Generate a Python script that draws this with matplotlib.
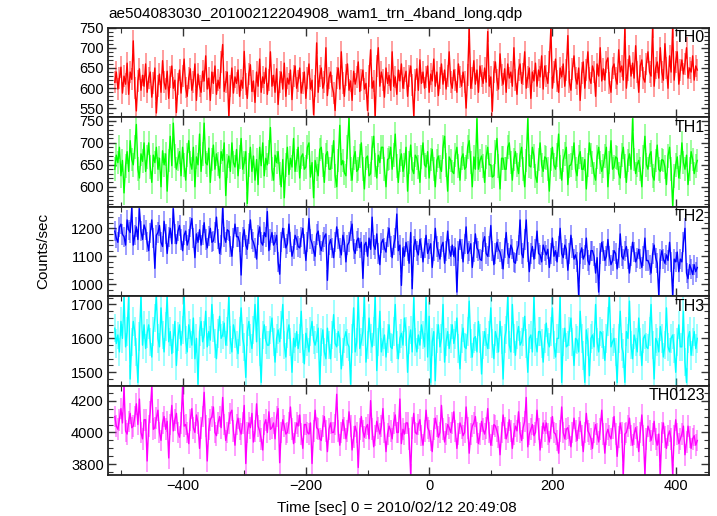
import numpy as np
import matplotlib
matplotlib.use("Agg")
import matplotlib.pyplot as plt
from matplotlib.ticker import MultipleLocator

plt.rcParams['font.family'] = ['Liberation Sans', 'DejaVu Sans']

title = "ae504083030_20100212204908_wam1_trn_4band_long.qdp"
xlabel = "Time [sec] 0 = 2010/02/12 20:49:08"
ylabel = "Counts/sec"
band_names = ["TH0", "TH1", "TH2", "TH3", "TH0123"]
band_colors = ["#ff0000", "#00ff00", "#0000ff", "#00ffff", "#ff00ff"]

t_start = -510.0   # time of first bin (s)
bin_width = 2.5    # s

th0 = [615, 640, 598, 625, 652, 588, 630, 610, 662, 585, 640, 622, 717, 600, 544, 618, 648, 595, 632, 605,
       660, 590, 625, 640, 578, 612, 650, 539, 605, 635, 590, 668, 615, 598, 642, 575, 628, 655, 600, 620,
       540, 610, 645, 588, 630, 672, 602, 580, 625, 648, 595, 615, 660, 570, 635, 605, 590, 642, 618, 680,
       598, 625, 570, 640, 612, 655, 585, 620, 600, 665, 708, 592, 615, 640, 530, 605, 650, 588, 628, 612,
       645, 580, 620, 600, 691, 610, 575, 635, 658, 592, 618, 565, 640, 605, 672, 590, 628, 612, 650, 585,
       620, 690, 605, 632, 590, 648, 560, 615, 640, 598, 662, 580, 625, 610, 645, 572, 630, 655, 600, 618,
       650, 588, 612, 640, 575, 625, 660, 598, 620, 535, 605, 712, 590, 630, 650, 600, 615, 700, 582, 625,
       640, 605, 588, 545, 625, 650, 598, 690, 612, 580, 632, 660, 595, 618, 570, 642, 610, 628, 665, 592,
       620, 645, 598, 612, 545, 630, 695, 600, 618, 530, 655, 700, 605, 640, 620, 578, 650, 612, 632, 595,
       690, 605, 628, 585, 645, 618, 660, 600, 625, 642, 580, 630, 655, 608, 532, 620, 648, 595, 670, 612,
       640, 600, 628, 655, 590, 635, 618, 672, 605, 640, 582, 625, 660, 610, 645, 598, 630, 690, 615, 600,
       645, 620, 590, 660, 628, 605, 640, 615, 551, 632, 750, 600, 625, 668, 610, 645, 590, 655, 630, 612,
       650, 615, 740, 605, 628, 543, 640, 665, 620, 598, 685, 632, 610, 648, 590, 660, 625, 640, 605, 700,
       620, 585, 645, 660, 612, 635, 690, 600, 628, 650, 575, 640, 618, 662, 605, 645, 628, 680, 598, 655,
       630, 612, 665, 750, 600, 640, 672, 618, 590, 650, 628, 660, 605, 645, 730, 615, 595, 648, 680, 625,
       610, 650, 570, 638, 665, 600, 645, 690, 625, 612, 655, 640, 580, 660, 630, 700, 618, 648, 620, 665,
       675, 612, 590, 650, 660, 625, 610, 695, 640, 655, 620, 750, 600, 645, 680, 630, 662, 625, 705, 640,
       590, 655, 670, 625, 615, 660, 690, 640, 630, 750, 605, 650, 665, 625, 700, 640, 620, 710, 650, 600,
       680, 640, 750, 620, 665, 690, 610, 645, 670, 635, 660, 700, 625, 650, 640, 680, 620, 655, 645]

th1 = [640, 672, 655, 690, 625, 660, 586, 648, 680, 635, 705, 662, 650, 690, 742, 640, 620, 675, 658, 700,
       635, 668, 700, 645, 610, 672, 655, 690, 640, 665, 600, 682, 650, 675, 590, 660, 715, 648, 745, 670,
       640, 662, 680, 625, 690, 650, 615, 672, 705, 655, 640, 690, 600, 668, 650, 720, 635, 675, 745, 655,
       650, 688, 610, 662, 695, 640, 675, 652, 620, 680, 660, 700, 580, 648, 670, 635, 700, 655, 645, 685,
       625, 668, 710, 640, 655, 680, 562, 650, 690, 635, 670, 615, 662, 605, 690, 648, 700, 625, 665, 650,
       680, 735, 640, 615, 672, 655, 680, 630, 600, 662, 575, 650, 690, 628, 665, 645, 710, 635, 660, 690,
       620, 668, 675, 640, 645, 690, 700, 622, 655, 575, 660, 640, 625, 685, 690, 650, 610, 672, 680, 640,
       640, 668, 705, 625, 600, 660, 740, 650, 660, 632, 625, 690, 757, 640, 615, 665, 680, 635, 640, 670,
       700, 640, 595, 665, 670, 625, 630, 688, 715, 650, 620, 672, 655, 690, 690, 640, 600, 662, 665, 690,
       640, 672, 720, 648, 610, 660, 675, 635, 650, 690, 590, 655, 695, 640, 630, 672, 665, 645, 610, 668,
       700, 650, 645, 680, 620, 662, 685, 640, 600, 660, 670, 645, 635, 690, 715, 650, 590, 668, 660, 635,
       630, 672, 690, 648, 615, 665, 675, 640, 645, 690, 705, 655, 600, 668, 640, 755, 640, 660, 670, 648,
       610, 668, 690, 650, 650, 622, 625, 680, 710, 648, 595, 665, 665, 640, 640, 690, 700, 655, 615, 662,
       680, 650, 630, 672, 690, 640, 600, 660, 755, 648, 645, 690, 670, 625, 610, 662, 700, 650, 635, 668,
       665, 640, 590, 662, 690, 650, 640, 672, 720, 645, 615, 660, 675, 690, 605, 648, 650, 665, 700, 640,
       625, 668, 680, 640, 640, 662, 595, 650, 700, 672, 655, 630, 615, 668, 690, 655, 635, 648, 670, 690,
       600, 655, 705, 640, 645, 668, 665, 630, 620, 672, 690, 648, 610, 660, 675, 640, 755, 662, 630, 650,
       660, 640, 600, 668, 715, 650, 640, 672, 680, 625, 615, 660, 695, 640, 635, 662, 660, 645, 605, 670,
       690, 640, 557, 625, 650, 668, 620, 645, 700, 655, 640, 672, 605, 640, 680, 662, 630, 648, 660]

th2 = [1190, 1165, 1150, 1205, 1215, 1178, 1170, 1140, 1230, 1195, 1185, 1273, 1140, 1175, 1205, 1160, 1270, 1190, 1160, 1212,
       1195, 1150, 1120, 1182, 1230, 1165, 1057, 1175, 1185, 1210, 1150, 1135, 1225, 1180, 1110, 1168, 1200, 1145, 1270, 1180,
       1145, 1190, 1210, 1160, 1120, 1175, 1190, 1140, 1160, 1205, 1235, 1165, 1095, 1180, 1150, 1195, 1140, 1175, 1220, 1160,
       1130, 1172, 1200, 1150, 1155, 1185, 1240, 1162, 1110, 1140, 1276, 1170, 1150, 1195, 1190, 1135, 1100, 1165, 1215, 1170,
       1170, 1150, 1033, 1168, 1195, 1140, 1125, 1180, 1230, 1162, 1150, 1130, 1090, 1175, 1205, 1150, 1140, 1185, 1170, 1260,
       1120, 1160, 1185, 1140, 1150, 1175, 1080, 1036, 1150, 1200, 1165, 1130, 1145, 1215, 1150, 1100, 1125, 1175, 1160, 1135,
       1130, 1168, 1200, 1145, 1085, 1150, 1235, 1162, 1145, 1120, 1100, 1178, 1190, 1140, 1120, 1150, 1170, 1180, 1014, 1140,
       1160, 1130, 1095, 1150, 1205, 1162, 1130, 1105, 1175, 1150, 1080, 1140, 1150, 1190, 1215, 1125, 1110, 1155, 1165, 1130,
       1150, 1021, 1140, 1150, 1100, 1165, 1125, 1240, 1140, 1125, 1180, 1110, 1070, 1148, 1160, 1130, 1115, 1170, 1200, 1135,
       1095, 1140, 1165, 1251, 1120, 1140, 996, 1130, 1100, 1150, 1120, 1075, 1185, 984, 1135, 1160, 1120, 1105, 1160, 1130,
       1080, 1130, 1175, 1110, 1125, 1145, 1060, 1120, 1200, 1135, 1115, 1090, 1135, 1150, 1075, 1120, 1190, 1125, 1100, 1140,
       1100, 1130, 972, 1120, 1160, 1125, 1080, 1145, 1205, 1110, 1120, 1145, 1060, 1115, 1180, 1130, 1120, 1090, 1085, 1150,
       1170, 1110, 1100, 1135, 1210, 1120, 1070, 1110, 1150, 1125, 1115, 1090, 1055, 1130, 1185, 1110, 1095, 1140, 1125, 1080,
       1075, 1120, 1140, 1230, 1110, 1095, 1160, 1230, 1115, 1045, 1110, 1135, 1090, 1125, 1190, 1110, 1105, 1080, 1140, 1120,
       1105, 1125, 1060, 1110, 1165, 1100, 1120, 1080, 1135, 1200, 1110, 1095, 1140, 1125, 1050, 1110, 1175, 1130, 1090, 1105,
       1080, 960, 1110, 1130, 1090, 1105, 1165, 1085, 1070, 1120, 1120, 1100, 1040, 1095, 972, 1110, 1150, 1120, 1085, 1100,
       1160, 1100, 1070, 1085, 1120, 1110, 1055, 1095, 1180, 1100, 1090, 1120, 1135, 1090, 1040, 1100, 1150, 1115, 1080, 1095,
       1125, 1090, 1060, 1100, 1165, 1085, 1085, 1070, 1040, 1110, 1140, 1095, 1075, 960, 1090, 1120, 1090, 1075, 1105, 1085,
       1150, 1080, 960, 1090, 1080, 1115, 1045, 1090, 1080, 1150, 1200, 1040, 1020, 1070, 1055, 1035, 1070, 1045, 1060]

th3 = [1630, 1585, 1610, 1560, 1650, 1600, 1725, 1575, 1620, 1725, 1480, 1590, 1650, 1620, 1560, 1470, 1605, 1725, 1580, 1640,
       1570, 1615, 1640, 1590, 1545, 1620, 1660, 1725, 1600, 1575, 1690, 1610, 1560, 1635, 1725, 1590, 1620, 1555, 1600, 1650,
       1520, 1605, 1640, 1580, 1625, 1725, 1595, 1560, 1640, 1615, 1580, 1660, 1540, 1600, 1465, 1620, 1650, 1590, 1610, 1680,
       1575, 1620, 1595, 1700, 1630, 1585, 1540, 1615, 1665, 1600, 1610, 1645, 1580, 1620, 1725, 1595, 1560, 1640, 1615, 1580,
       1555, 1620, 1690, 1600, 1575, 1485, 1620, 1650, 1600, 1570, 1625, 1700, 1590, 1725, 1560, 1470, 1610, 1640, 1595, 1580,
       1580, 1625, 1660, 1590, 1530, 1600, 1625, 1590, 1640, 1700, 1580, 1545, 1615, 1640, 1590, 1500, 1600, 1575, 1620, 1570,
       1600, 1680, 1570, 1525, 1615, 1590, 1560, 1620, 1650, 1595, 1580, 1600, 1630, 1465, 1590, 1625, 1560, 1540, 1630, 1580,
       1540, 1610, 1670, 1585, 1575, 1620, 1600, 1510, 1560, 1600, 1620, 1585, 1575, 1465, 1600, 1690, 1560, 1590, 1725, 1570,
       1590, 1620, 1725, 1530, 1580, 1660, 1600, 1575, 1620, 1725, 1505, 1590, 1680, 1560, 1590, 1610, 1545, 1600, 1640, 1575,
       1570, 1620, 1700, 1580, 1540, 1600, 1615, 1580, 1660, 1620, 1500, 1595, 1625, 1560, 1720, 1590, 1560, 1610, 1580, 1640,
       1610, 1575, 1725, 1545, 1665, 1470, 1590, 1620, 1475, 1600, 1640, 1575, 1600, 1700, 1530, 1590, 1620, 1570, 1600, 1640,
       1585, 1610, 1660, 1570, 1510, 1600, 1630, 1575, 1570, 1620, 1710, 1585, 1545, 1600, 1605, 1560, 1650, 1600, 1495, 1580,
       1620, 1590, 1570, 1610, 1690, 1585, 1540, 1620, 1600, 1560, 1650, 1595, 1480, 1600, 1625, 1725, 1580, 1560, 1700, 1600,
       1550, 1610, 1635, 1580, 1590, 1620, 1665, 1585, 1500, 1600, 1610, 1560, 1725, 1590, 1560, 1620, 1620, 1585, 1530, 1600,
       1645, 1590, 1575, 1620, 1690, 1580, 1545, 1600, 1600, 1725, 1470, 1590, 1630, 1575, 1580, 1620, 1660, 1590, 1520, 1600,
       1595, 1560, 1680, 1600, 1550, 1470, 1625, 1590, 1490, 1600, 1610, 1575, 1700, 1590, 1560, 1620, 1615, 1580, 1535, 1600,
       1650, 1725, 1575, 1590, 1600, 1560, 1470, 1600, 1680, 1575, 1555, 1470, 1620, 1600, 1710, 1580, 1540, 1610, 1590, 1560,
       1660, 1590, 1520, 1600, 1610, 1575, 1570, 1620, 1700, 1580, 1480, 1600, 1590, 1560, 1635, 1600, 1545, 1580, 1690, 1575,
       1560, 1600, 1610, 1570, 1500, 1590, 1640, 1575, 1575, 1680, 1530, 1470, 1600, 1620, 1550, 1590, 1620, 1570, 1600]

th0123 = [4100, 4040, 4020, 4080, 4150, 4060, 4290, 4010, 3990, 4070, 4120, 4030, 4040, 4100, 4180, 4050, 4210, 4000, 3960, 4080,
          4080, 3821, 4040, 4130, 4290, 4020, 4030, 4090, 4140, 4000, 3950, 4060, 4100, 4020, 4070, 3840, 4050, 4170, 4010, 4080,
          4120, 4000, 3970, 4060, 4290, 4040, 4050, 4000, 3930, 4080, 4150, 4030, 4000, 4110, 4060, 3900, 4030, 4100, 4252, 4040,
          3821, 4020, 4080, 4100, 4160, 4000, 3980, 4060, 4100, 4030, 4220, 4050, 3950, 4000, 4060, 4120, 4140, 4010, 3920, 4050,
          4090, 4020, 3990, 4060, 4170, 3805, 4000, 4060, 4030, 4120, 3940, 4010, 4180, 4040, 4010, 3960, 3890, 4050, 4080, 4000,
          4130, 4020, 4030, 4060, 3960, 4100, 4150, 3810, 4000, 4080, 4040, 3990, 4000, 4060, 4160, 4020, 3930, 4000, 4060, 4040,
          4110, 3990, 3900, 4050, 4050, 4000, 3990, 4060, 3805, 4010, 4140, 4030, 4020, 3960, 3950, 4040, 4100, 4010, 3880, 4020,
          4060, 4000, 4000, 4050, 4240, 4010, 3920, 4000, 4080, 4030, 3960, 4010, 4130, 4040, 3890, 3970, 4040, 4000, 3780, 4020,
          4100, 4010, 3970, 4030, 4050, 3960, 4200, 4020, 3910, 3980, 4070, 4030, 3990, 4040, 4150, 4000, 3880, 3990, 4040, 4010,
          3960, 4060, 4110, 4000, 4000, 4210, 3930, 4020, 3990, 4060, 4060, 3960, 3737, 4030, 4120, 4000, 3990, 4050, 4080, 3980,
          3920, 4010, 4140, 4030, 4010, 3950, 3880, 4020, 4090, 4040, 3970, 4000, 4170, 4020, 3940, 3990, 4050, 4030, 4000, 4060,
          4130, 4010, 3900, 3990, 4060, 4030, 3980, 4000, 4160, 4030, 3870, 3990, 4040, 4060, 4100, 4000, 3930, 3990, 4070, 4020,
          3990, 4030, 4150, 4000, 3920, 3980, 4050, 4040, 4010, 3970, 3860, 4000, 4110, 4030, 3960, 4000, 4080, 4010, 3900, 3990,
          4040, 4010, 4130, 4000, 3950, 4030, 4070, 4220, 3910, 3990, 4020, 4050, 3980, 4000, 4140, 4020, 3890, 3970, 4060, 4010,
          4060, 3990, 3940, 4030, 4100, 4000, 3990, 3950, 3870, 4010, 4160, 4000, 3960, 4020, 4030, 3980, 3910, 4000, 4090, 4010,
          3950, 4030, 4070, 3980, 3880, 4000, 4120, 4010, 3990, 3960, 3900, 4000, 4050, 3990, 3940, 4020, 4140, 3990, 3870, 3990,
          4020, 3980, 3960, 4030, 4100, 3990, 3850, 3970, 4060, 4000, 3737, 3990, 4000, 4040, 4090, 3980, 3920, 3990, 4030, 3970,
          3880, 4000, 4110, 3980, 3737, 3960, 4040, 4010, 3950, 3990, 4070, 3960, 3920, 3990, 3737, 4000, 4060, 3970, 3900, 3980,
          4010, 3960, 3737, 3980, 4080, 3990, 3930, 3960, 3990, 4040, 3860, 3940, 4040, 3970, 3900, 3960, 3980, 3920, 3950]

band_values = [th0, th1, th2, th3, th0123]
band_errors = [27, 27, 36, 42, 68]          # typical 1-sigma error per bin

y_limits = [(529, 750), (555, 759), (958, 1278), (1461, 1725), (3733, 4295)]
y_major = [50, 50, 100, 100, 200]
y_minor = [10, 10, 20, 20, 50]
x_limits = (-521, 454)

W, H = 717, 516
fig = plt.figure(figsize=(W / 100, H / 100), dpi=100)

left_px, right_px = 108, 709
top_px, bottom_px = 27.5, 475
n = len(band_names)
panel_h = (bottom_px - top_px) / n

for k in range(n):
    y_top = top_px + k * panel_h
    ax = fig.add_axes([left_px / W, 1 - (y_top + panel_h) / H,
                       (right_px - left_px) / W, panel_h / H])
    vals = np.asarray(band_values[k], dtype=float)
    t = t_start + bin_width * np.arange(len(vals))
    c = band_colors[k]
    e = band_errors[k]
    ax.vlines(t, vals - e, vals + e, color=c, alpha=0.45, lw=1.2)
    ax.plot(t, vals, color=c, lw=1.0)
    ax.set_xlim(*x_limits)
    ax.set_ylim(*y_limits[k])
    ax.xaxis.set_major_locator(MultipleLocator(200))
    ax.xaxis.set_minor_locator(MultipleLocator(100))
    ax.yaxis.set_major_locator(MultipleLocator(y_major[k]))
    ax.yaxis.set_minor_locator(MultipleLocator(y_minor[k]))
    ax.tick_params(which='both', direction='in', top=True, right=True,
                   color='#333333', labelsize=10.5, pad=3)
    ax.tick_params(which='major', length=6, width=1.0)
    ax.tick_params(which='minor', length=3.5, width=0.8)
    for s in ax.spines.values():
        s.set_linewidth(1.3)
        s.set_color('#222222')
    if k < n - 1:
        ax.tick_params(labelbottom=False)
    ax.text(0.993, 0.97, band_names[k], transform=ax.transAxes,
            ha='right', va='top', fontsize=11.5, color='black')

fig.text(left_px / W, 1 - 18 / H, title, ha='left', va='baseline', fontsize=11)
fig.text(397 / W, 1 - 512 / H, xlabel, ha='center', va='baseline', fontsize=11)
fig.text(43 / W, 0.5 * (1 - top_px / H + 1 - bottom_px / H), ylabel,
         rotation=90, ha='center', va='center', fontsize=11)

fig.savefig("out.png", dpi=100)
